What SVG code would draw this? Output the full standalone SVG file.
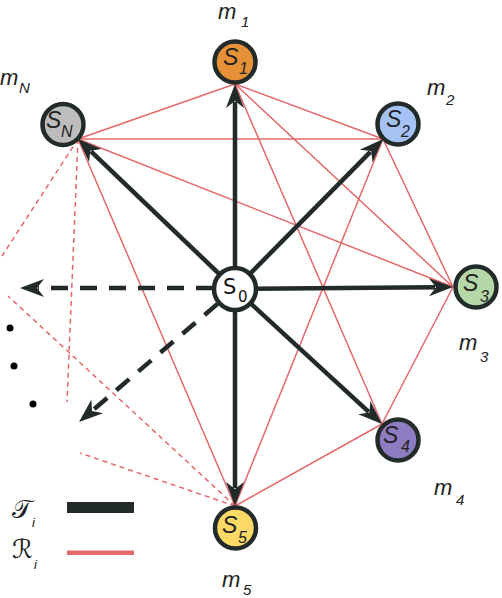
<svg xmlns="http://www.w3.org/2000/svg" width="502" height="598" viewBox="0 0 502 598">
<style>
.red{stroke:#e3686a;stroke-width:1.5;fill:none}
.redd{stroke:#e3686a;stroke-width:1.5;fill:none;stroke-dasharray:5 4}
.arr{stroke:#222a2a;stroke-width:4.5;fill:none}
.arrd{stroke:#222a2a;stroke-width:4.5;fill:none;stroke-dasharray:17 12}
.node{stroke:#222a2a;stroke-width:4.5}
.lab{font-family:"Liberation Sans",Arial,sans-serif;font-style:italic;fill:#222}
.s{font-size:23px}
.sub{font-size:16px}
.m{font-size:22px}
.msub{font-size:15px}
.cal{font-family:"DejaVu Sans","DejaVu Serif",serif;font-size:26px;fill:#222}
</style>
<defs>
<marker id="ah" viewBox="-26 -11 28 22" markerWidth="28" markerHeight="22" refX="-18" refY="0" orient="auto" markerUnits="userSpaceOnUse">
<path d="M0,0 L-24,-9 L-17,0 L-24,9 Z" fill="#222a2a"/>
</marker>
</defs>
<g id="connectors">
<g id="relations">
<line class="red" x1="78" y1="139" x2="235" y2="84"/>
<line class="red" x1="78" y1="139" x2="383" y2="139"/>
<line class="red" x1="78" y1="139" x2="453" y2="287"/>
<line class="red" x1="78" y1="139" x2="235" y2="506"/>
<line class="red" x1="235" y1="84" x2="383" y2="139"/>
<line class="red" x1="235" y1="84" x2="453" y2="287"/>
<line class="red" x1="235" y1="84" x2="382" y2="424"/>
<line class="red" x1="383" y1="139" x2="453" y2="287"/>
<line class="red" x1="383" y1="139" x2="235" y2="506"/>
<line class="red" x1="453" y1="287" x2="382" y2="424"/>
<line class="red" x1="382" y1="424" x2="235" y2="506"/>
<line class="redd" x1="78" y1="139" x2="2" y2="256"/>
<line class="redd" x1="78" y1="139" x2="67" y2="402"/>
<line class="redd" x1="235" y1="506" x2="80" y2="453"/>
<line class="redd" x1="235" y1="506" x2="8" y2="296"/>
</g>
<g id="transmissions">
<line class="arr" x1="235" y1="289" x2="235" y2="102" marker-end="url(#ah)"/>
<line class="arr" x1="235" y1="289" x2="91" y2="151.4" marker-end="url(#ah)"/>
<line class="arr" x1="235" y1="289" x2="370.4" y2="151.8" marker-end="url(#ah)"/>
<line class="arr" x1="235" y1="289" x2="435" y2="287.2" marker-end="url(#ah)"/>
<line class="arr" x1="235" y1="289" x2="368.7" y2="411.8" marker-end="url(#ah)"/>
<line class="arr" x1="235" y1="289" x2="235" y2="488" marker-end="url(#ah)"/>
<line class="arrd" x1="213" y1="288" x2="38" y2="288" marker-end="url(#ah)"/>
<line class="arrd" x1="217.5" y1="303.9" x2="92.7" y2="410.3" marker-end="url(#ah)"/>
</g>
</g>
<g id="dots" fill="#000">
<circle cx="10" cy="328" r="3.5"/>
<circle cx="14" cy="366" r="3.5"/>
<circle cx="33" cy="404" r="3.5"/>
</g>
<g id="S0">
<circle class="node" cx="235" cy="289" r="21" fill="#fff" stroke="#000"/>
<text x="223" y="294" font-family="DejaVu Sans,sans-serif" font-size="21" fill="#111">S</text>
<text x="238" y="302" font-family="DejaVu Sans,sans-serif" font-size="15" fill="#111">0</text>
</g>
<g id="SN">
<circle class="node" cx="63" cy="124.5" r="20.5" fill="#bdbdbd"/>
<text class="lab s" x="46" y="128">S</text><text class="lab sub" x="61" y="137">N</text>
<text class="lab m" x="0" y="85">m</text><text class="lab msub" x="19" y="93">N</text>
</g>
<g id="S1">
<circle class="node" cx="235" cy="62" r="20.5" fill="#e69138"/>
<text class="lab s" x="223" y="65">S</text><text class="lab sub" x="239" y="74">1</text>
<text class="lab m" x="218" y="19">m</text><text class="lab msub" x="241" y="27">1</text>
</g>
<g id="S2">
<circle class="node" cx="398" cy="124" r="20.5" fill="#a4c2f4"/>
<text class="lab s" x="386" y="127">S</text><text class="lab sub" x="401" y="137">2</text>
<text class="lab m" x="427" y="95">m</text><text class="lab msub" x="446" y="105">2</text>
</g>
<g id="S3">
<circle class="node" cx="476" cy="287" r="20.5" fill="#b6d7a8"/>
<text class="lab s" x="463" y="291">S</text><text class="lab sub" x="480" y="302">3</text>
<text class="lab m" x="459" y="350">m</text><text class="lab msub" x="480" y="362">3</text>
</g>
<g id="S4">
<circle class="node" cx="398" cy="440" r="20.5" fill="#8e7cc3"/>
<text class="lab s" x="383" y="443">S</text><text class="lab sub" x="401" y="452">4</text>
<text class="lab m" x="434" y="495">m</text><text class="lab msub" x="456" y="505">4</text>
</g>
<g id="S5">
<circle class="node" cx="235.5" cy="528" r="20.5" fill="#ffd966"/>
<text class="lab s" x="222" y="533">S</text><text class="lab sub" x="238" y="543">5</text>
<text class="lab m" x="222" y="587">m</text><text class="lab msub" x="243" y="595">5</text>
</g>
<g id="legend">
<text class="cal" x="12" y="518">𝒯</text>
<text class="lab" x="32" y="527" font-size="13">i</text>
<rect x="67" y="502" width="67" height="11" fill="#222a2a"/>
<text class="cal" x="12" y="558">ℛ</text>
<text class="lab" x="34" y="569" font-size="13">i</text>
<rect x="67" y="550.5" width="67" height="4.5" fill="#e3686a"/>
</g>
</svg>
